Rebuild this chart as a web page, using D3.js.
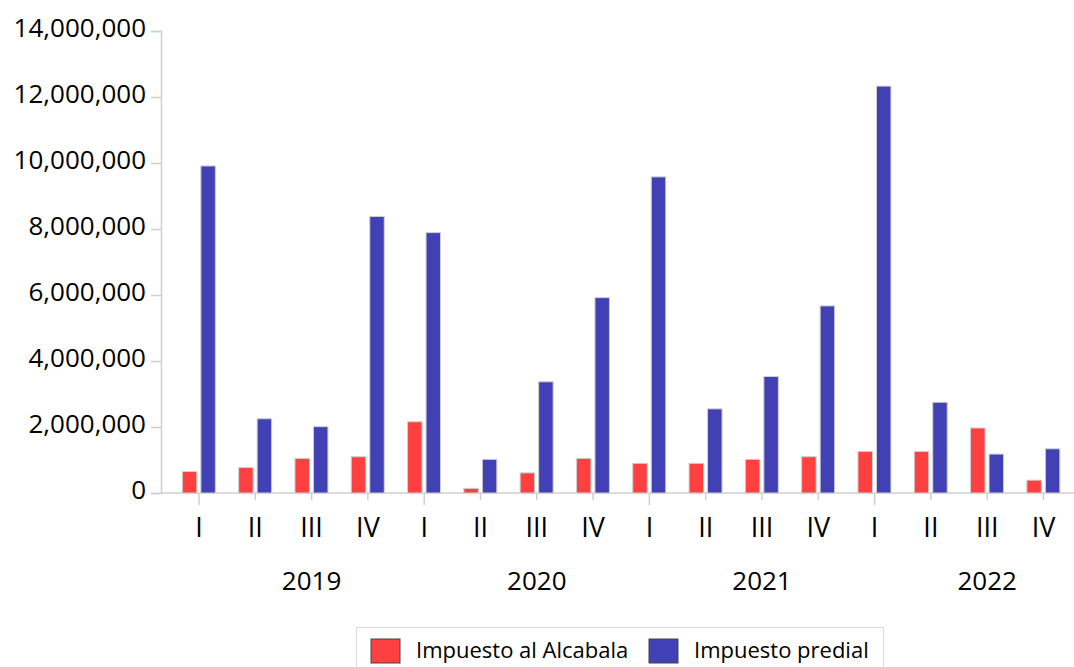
<!DOCTYPE html>
<html>
<head>
<meta charset="utf-8">
<script src="https://cdn.jsdelivr.net/npm/d3@7"></script>
<style>
  body { margin: 0; background: #fff; }
  svg { display: block; font-family: "Open Sans", "Noto Sans", sans-serif; }
</style>
</head>
<body>
<div id="chart"></div>
<script>
const years = ['2019', '2020', '2021', '2022']
const quarters = ['I', 'II', 'III', 'IV']
const series = ['Impuesto al Alcabala', 'Impuesto predial']
const colors = ['#ff4040', '#4141b5']
// valores
const alcabala = [650000, 770000, 1050000, 1100000, 2160000, 140000, 610000, 1050000,
  900000, 900000, 1020000, 1100000, 1260000, 1260000, 1970000, 390000]
const predial = [9910000, 2250000, 2010000, 8380000, 7890000, 1020000, 3370000, 5920000,
  9580000, 2550000, 3530000, 5670000, 12330000, 2750000, 1180000, 1340000]
const yTicks = [0, 2000000, 4000000, 6000000, 8000000, 10000000, 12000000, 14000000]

const width = 1074
const height = 667
const axisLeftX = 161

const svg = d3.select('#chart').append('svg')
  .attr('width', width)
  .attr('height', height)

const cats = d3.range(years.length * quarters.length)
const x = d3.scaleBand().domain(cats).range([170.85, 1071.65])
const x1 = d3.scaleBand().domain(series).range([11.5, 44.5]).paddingInner(0.216)
const y = d3.scaleLinear().domain([0, 14000000]).range([493, 31])

// eje y
const yAxis = svg.append('g')
  .attr('transform', `translate(${axisLeftX},0)`)
  .call(d3.axisLeft(y).tickValues(yTicks).tickFormat(d3.format(',')).tickSize(10).tickPadding(5))
yAxis.select('.domain').attr('stroke', '#cfcfcf').attr('stroke-width', 1.5)
yAxis.selectAll('.tick line').attr('stroke', '#cfcfcf').attr('stroke-width', 1.5)
yAxis.selectAll('.tick text')
  .attr('font-size', 26)
  .attr('fill', '#000')
  .attr('dy', '0.22em')
  .style('font-family', '"Open Sans", sans-serif')

// eje x
svg.append('line')
  .attr('x1', axisLeftX).attr('x2', width)
  .attr('y1', y(0)).attr('y2', y(0))
  .attr('stroke', '#cfcfcf').attr('stroke-width', 1.5)

const xTicks = svg.append('g').selectAll('g')
  .data(cats)
  .enter().append('g')
  .attr('transform', d => `translate(${x(d) + x.bandwidth() / 2},0)`)

xTicks.append('line')
  .attr('y1', y(0))
  .attr('y2', d => d % 4 === 0 ? y(0) + 12 : y(0) + 7)
  .attr('stroke', '#cfcfcf').attr('stroke-width', 1.5)

xTicks.append('text')
  .attr('y', 537)
  .attr('text-anchor', 'middle')
  .attr('font-size', 27)
  .attr('fill', '#000')
  .text(d => quarters[d % 4])

svg.append('g').selectAll('text')
  .data(years)
  .enter().append('text')
  .attr('x', (d, i) => x(i * 4 + 2) + x.bandwidth() / 2)
  .attr('y', 590)
  .attr('text-anchor', 'middle')
  .attr('font-size', 26)
  .attr('fill', '#000')
  .text(d => d)

// barras
const rows = cats.map(i => [alcabala[i], predial[i]])
const groups = svg.append('g').selectAll('g')
  .data(rows)
  .enter().append('g')
  .attr('transform', (d, i) => `translate(${x(i)},0)`)

groups.selectAll('rect')
  .data(d => d.map((v, k) => ({ key: series[k], value: v, k })))
  .enter().append('rect')
  .attr('x', d => x1(d.key))
  .attr('width', x1.bandwidth())
  .attr('y', d => y(d.value))
  .attr('height', d => y(0) - y(d.value))
  .attr('fill', d => colors[d.k])
  .attr('stroke', '#d0d0d0')
  .attr('stroke-width', 1)

// leyenda
const legend = svg.append('g')
legend.append('rect')
  .attr('x', 356.5).attr('y', 627.5)
  .attr('width', 527).attr('height', 45)
  .attr('fill', '#fff')
  .attr('stroke', '#dcdcdc')

const legendX = [371, 649]
const items = legend.selectAll('g.item')
  .data(series)
  .enter().append('g')
  .attr('class', 'item')
  .attr('transform', (d, i) => `translate(${legendX[i]},639)`)

items.append('rect')
  .attr('width', 29).attr('height', 24)
  .attr('fill', (d, i) => colors[i])
  .attr('stroke', '#444')
  .attr('stroke-width', 1)

items.append('text')
  .attr('x', 45)
  .attr('y', 19)
  .attr('font-size', 22)
  .attr('fill', '#000')
  .text(d => d)
</script>
</body>
</html>
